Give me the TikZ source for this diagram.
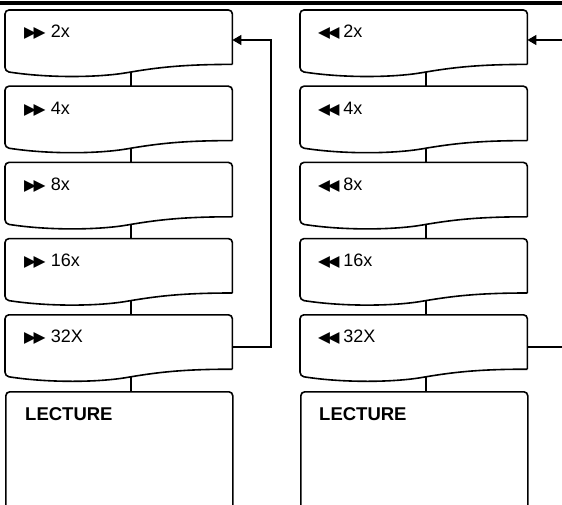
\documentclass[tikz,border=0pt]{standalone}
\usepackage{fontspec}
\setmainfont{Liberation Sans}
\newfontfamily\symfont{DejaVu Sans}
\usepackage{tikz}
\usetikzlibrary{calc,arrows.meta}

\newcommand{\fwd}{{\symfont\fontsize{15.5}{16}\selectfont ▶\kern-2.6pt▶}\hspace{5.5pt}}
\newcommand{\rew}{{\symfont\fontsize{15.5}{16}\selectfont ◀\kern-2.6pt◀}\hspace{4pt}}

% box with a wavy bottom edge, drawn round a named node
\newcommand{\docoutline}[1]{%
  \draw[boxline] (#1.south east) -- (#1.north east) -- (#1.north west) -- ($(#1.south west)+(0,7)$)
    .. controls ($(#1.south west)+(45,14)$) and ($(#1.south west)+(95,13)$) .. ($(#1.south east)+(-101,7.5)$)
    .. controls ($(#1.south east)+(-70,2.5)$) and ($(#1.south east)+(-45,0)$) .. (#1.south east);}

\tikzset{
  boxline/.style={line width=1.6pt, rounded corners=4pt},
  speedbox/.style={minimum width=227pt, minimum height=54pt, inner sep=0pt, anchor=north west},
  lecbox/.style={draw, line width=1.6pt, rounded corners=4pt, minimum width=227pt,
    minimum height=140pt, inner sep=0pt, anchor=north west},
  speedlabel/.style={anchor=base west, inner sep=0pt, font=\fontsize{18}{21}\selectfont},
  leclabel/.style={anchor=base west, inner sep=0pt, font=\bfseries\fontsize{18.5}{22}\selectfont},
  link/.style={line width=1.4pt},
  arr/.style={line width=1.4pt, -{Triangle[length=9pt,width=10pt]}},
}

\begin{document}
\begin{tikzpicture}[x=1pt,y=-1pt]
\path[use as bounding box] (0,0) rectangle (562,505);
\draw[line width=4pt] (0,3) -- (562,3);

% fast forward
\node[speedbox] (f1) at (5,10) {};
\node[speedbox] (f2) at (5,86.2) {};
\node[speedbox] (f3) at (5,162.4) {};
\node[speedbox] (f4) at (5,238.6) {};
\node[speedbox] (f5) at (5,314.8) {};
\node[lecbox] (fl) at (5,391) {};
\docoutline{f1}
\docoutline{f2}
\docoutline{f3}
\docoutline{f4}
\docoutline{f5}

\node[speedlabel] (f1t) at ($(f1.north west)+(19,28)$) {\fwd 2x};
\node[speedlabel] (f2t) at ($(f2.north west)+(19,28)$) {\fwd 4x};
\node[speedlabel] (f3t) at ($(f3.north west)+(19,28)$) {\fwd 8x};
\node[speedlabel] (f4t) at ($(f4.north west)+(19,28)$) {\fwd 16x};
\node[speedlabel] (f5t) at ($(f5.north west)+(19,28)$) {\fwd 32X};
\node[leclabel] (flt) at ($(fl.north west)+(20,29.5)$) {LECTURE};

\draw[link] ($(f1.south west)+(126,7.5)$) -- ($(f2.north west)+(126,0)$);
\draw[link] ($(f2.south west)+(126,7.5)$) -- ($(f3.north west)+(126,0)$);
\draw[link] ($(f3.south west)+(126,7.5)$) -- ($(f4.north west)+(126,0)$);
\draw[link] ($(f4.south west)+(126,7.5)$) -- ($(f5.north west)+(126,0)$);
\draw[link] ($(f5.south west)+(126,7.5)$) -- ($(fl.north west)+(126,0)$);

\coordinate (fturn) at (271,200);
\draw[arr] ($(f5.north east)+(0,32)$) -| (fturn) |- ($(f1.north east)+(0,30)$);

% rewind
\node[speedbox] (r1) at (300,10) {};
\node[speedbox] (r2) at (300,86.2) {};
\node[speedbox] (r3) at (300,162.4) {};
\node[speedbox] (r4) at (300,238.6) {};
\node[speedbox] (r5) at (300,314.8) {};
\node[lecbox] (rl) at (300,391) {};
\docoutline{r1}
\docoutline{r2}
\docoutline{r3}
\docoutline{r4}
\docoutline{r5}

\node[speedlabel] (r1t) at ($(r1.north west)+(18,28)$) {\rew 2x};
\node[speedlabel] (r2t) at ($(r2.north west)+(18,28)$) {\rew 4x};
\node[speedlabel] (r3t) at ($(r3.north west)+(18,28)$) {\rew 8x};
\node[speedlabel] (r4t) at ($(r4.north west)+(18,28)$) {\rew 16x};
\node[speedlabel] (r5t) at ($(r5.north west)+(18,28)$) {\rew 32X};
\node[leclabel] (rlt) at ($(rl.north west)+(19,29.5)$) {LECTURE};

\draw[link] ($(r1.south west)+(126,7.5)$) -- ($(r2.north west)+(126,0)$);
\draw[link] ($(r2.south west)+(126,7.5)$) -- ($(r3.north west)+(126,0)$);
\draw[link] ($(r3.south west)+(126,7.5)$) -- ($(r4.north west)+(126,0)$);
\draw[link] ($(r4.south west)+(126,7.5)$) -- ($(r5.north west)+(126,0)$);
\draw[link] ($(r5.south west)+(126,7.5)$) -- ($(rl.north west)+(126,0)$);

\coordinate (rexit) at ($(r5.north east)+(45,32)$);
\coordinate (rentry) at ($(r1.north east)+(45,30)$);
\draw[link] ($(r5.north east)+(0,32)$) -- (rexit);
\draw[arr] (rentry) -- ($(r1.north east)+(0,30)$);
\end{tikzpicture}
\end{document}
